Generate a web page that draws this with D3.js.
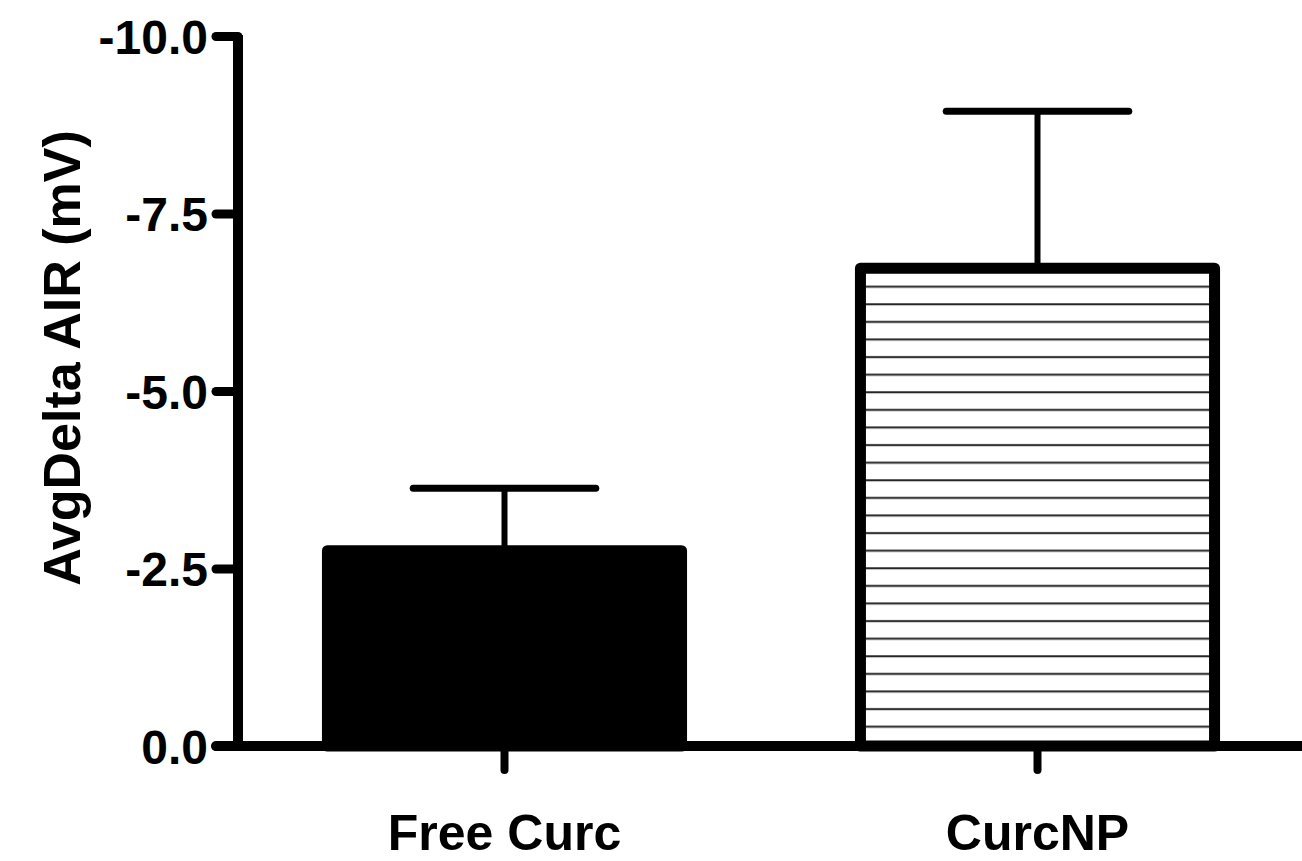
<!DOCTYPE html>
<html>
<head>
<meta charset="utf-8">
<script src="https://cdn.jsdelivr.net/npm/d3@7"></script>
<style>
  html, body { margin: 0; padding: 0; background: #fff; }
  svg { display: block; }
  text { font-family: "Liberation Sans", Arial, sans-serif; font-weight: bold; fill: #000; }
</style>
</head>
<body>
<div id="chart"></div>
<script>
// data (mV)
const groups = ["Free Curc", "CurcNP"];
const means = [-2.75, -6.73];
const errors = [0.88, 2.21];
const yTicks = [0, -2.5, -5, -7.5, -10];
const fills = ["solid", "hatch"];

const width = 1302;
const height = 861;

const svg = d3.select("#chart").append("svg")
  .attr("xmlns", "http://www.w3.org/2000/svg")
  .attr("width", width)
  .attr("height", height)
  .style("background-color", "#ffffff");

// horizontal hatching for the second bar
const defs = svg.append("defs");
const pat = defs.append("pattern")
  .attr("id", "hatch")
  .attr("patternUnits", "userSpaceOnUse")
  .attr("width", 20)
  .attr("height", 17.6);
pat.append("rect").attr("width", 20).attr("height", 17.6).attr("fill", "#fff");
pat.append("line")
  .attr("x1", 0).attr("x2", 20)
  .attr("y1", 5.1).attr("y2", 5.1)
  .attr("stroke", "#222").attr("stroke-width", 2);

const y = d3.scaleLinear().domain([0, -10]).range([746, 36]);
const x = d3.scaleBand().domain(groups).range([238, 1304])
  .paddingInner(0.315).paddingOuter(0.1575);

const sw = 11;

// bars
svg.selectAll("rect.bar")
  .data(groups)
  .enter()
  .append("rect")
  .attr("class", "bar")
  .attr("x", d => x(d) + sw / 2)
  .attr("width", x.bandwidth() - sw)
  .attr("y", (d, i) => y(means[i]))
  .attr("height", (d, i) => y(0) - y(means[i]))
  .attr("fill", (d, i) => fills[i] === "solid" ? "#000" : "url(#hatch)")
  .attr("stroke", "#000")
  .attr("stroke-width", sw)
  .attr("stroke-linejoin", "round");

// error bars (one-sided, away from zero)
const eb = svg.selectAll("g.err")
  .data(groups)
  .enter()
  .append("g")
  .attr("class", "err");

eb.append("line")
  .attr("x1", d => x(d) + x.bandwidth() / 2)
  .attr("x2", d => x(d) + x.bandwidth() / 2)
  .attr("y1", (d, i) => y(means[i]))
  .attr("y2", (d, i) => y(means[i] - errors[i]))
  .attr("stroke", "#000")
  .attr("stroke-width", 6);

eb.append("line")
  .attr("x1", d => x(d) + x.bandwidth() * 0.25)
  .attr("x2", d => x(d) + x.bandwidth() * 0.75)
  .attr("y1", (d, i) => y(means[i] - errors[i]))
  .attr("y2", (d, i) => y(means[i] - errors[i]))
  .attr("stroke", "#000")
  .attr("stroke-width", 7)
  .attr("stroke-linecap", "round");

// y axis
const fmt = d => d3.format(".1f")(d).replace("\u2212", "-");
const yAxis = svg.append("g")
  .attr("transform", "translate(238,0)")
  .call(d3.axisLeft(y).tickValues(yTicks).tickFormat(fmt).tickSize(22).tickPadding(8));

yAxis.select(".domain").remove();
yAxis.append("line")
  .attr("x1", 0).attr("x2", 0)
  .attr("y1", y(-10) - 1).attr("y2", y(0) + 5)
  .attr("stroke", "#000")
  .attr("stroke-width", 10);
yAxis.selectAll(".tick line")
  .attr("stroke", "#000")
  .attr("stroke-width", 9)
  .attr("stroke-linecap", "round");
yAxis.selectAll(".tick text")
  .style("font-size", "48px")
  .attr("dy", "0.36em")
  .attr("fill", "#000");

// x axis
const xAxis = svg.append("g")
  .attr("transform", "translate(0," + y(0) + ")")
  .call(d3.axisBottom(x).tickSize(24).tickPadding(44));

xAxis.select(".domain").remove();
xAxis.append("line")
  .attr("x1", 216).attr("x2", width)
  .attr("y1", 0).attr("y2", 0)
  .attr("stroke", "#000")
  .attr("stroke-width", 10)
  .attr("stroke-linecap", "round");
xAxis.selectAll(".tick line")
  .attr("stroke", "#000")
  .attr("stroke-width", 8)
  .attr("stroke-linecap", "round");
xAxis.selectAll(".tick text")
  .style("font-size", "50px")
  .attr("fill", "#000");

// y label
svg.append("text")
  .attr("transform", "translate(80,358)rotate(-90)")
  .attr("text-anchor", "middle")
  .style("font-size", "52px")
  .text("AvgDelta AIR (mV)");
</script>
</body>
</html>
